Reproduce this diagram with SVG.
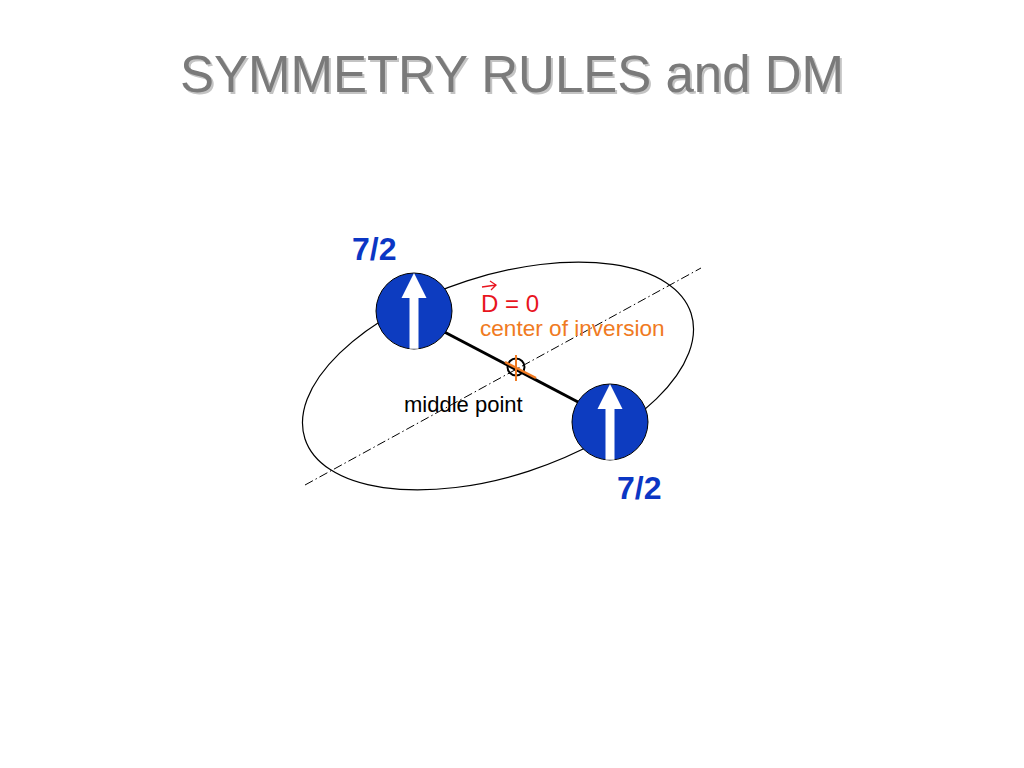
<svg xmlns="http://www.w3.org/2000/svg" width="1024" height="768" viewBox="0 0 1024 768">
<style>
.title{font-family:"Liberation Sans",Arial,sans-serif;font-size:51px;text-anchor:middle}
.lbl{font-family:"Liberation Sans",Arial,sans-serif;font-size:22px}
.big{font-size:24px}
.mid{font-size:22.6px}
.spin{font-family:"Liberation Sans",Arial,sans-serif;font-size:32px;font-weight:bold;fill:#0b36c4}
.ball{fill:#0d3cc0;stroke:#000;stroke-width:1}
.arr{fill:#fff}
</style>
<defs>
<path id="upArrow" d="M0,-38 L12.5,-13 L4.5,-13 L4.5,37.7 L-4.5,37.7 L-4.5,-13 L-12.5,-13 Z"/>
</defs>
<rect width="1024" height="768" fill="#fff"/>
<g id="title">
<text class="title" x="514" y="94" fill="#c4c4c4">SYMMETRY RULES and DM</text>
<text class="title" x="512" y="92" fill="#7a7a7a">SYMMETRY RULES and DM</text>
</g>
<g id="connectors">
<ellipse cx="498" cy="376" rx="203" ry="100" transform="rotate(-18 498 376)" fill="none" stroke="#000" stroke-width="1.2"/>
<line x1="305" y1="485" x2="701" y2="268" stroke="#000" stroke-width="1" stroke-dasharray="9 3 1.5 3"/>
<line x1="433" y1="326" x2="578" y2="402" stroke="#000" stroke-width="3"/>
</g>
<g id="center">
<circle cx="516" cy="367" r="8.5" fill="none" stroke="#000" stroke-width="2"/>
<line x1="516" y1="355" x2="516" y2="381" stroke="#f07a22" stroke-width="2"/>
<line x1="505" y1="362" x2="536" y2="378" stroke="#f07a22" stroke-width="2.5"/>
</g>
<g id="spin1">
<circle class="ball" cx="414" cy="311" r="38"/>
<use href="#upArrow" class="arr" transform="translate(414 311)"/>
<text class="spin" x="352" y="260">7/2</text>
</g>
<g id="spin2">
<circle class="ball" cx="610" cy="422" r="38"/>
<use href="#upArrow" class="arr" transform="translate(610 422)"/>
<text class="spin" x="617" y="499">7/2</text>
</g>
<g id="labels">
<path d="M482,287 L496,285 M490,281 L496,285 L491,290" fill="none" stroke="#e8141e" stroke-width="1.3"/>
<text class="lbl big" x="481" y="312" fill="#e8141e">D = 0</text>
<text class="lbl mid" x="480" y="336" fill="#f07a22">center of inversion</text>
<text class="lbl" x="404" y="412" fill="#000">middle point</text>
</g>
</svg>
